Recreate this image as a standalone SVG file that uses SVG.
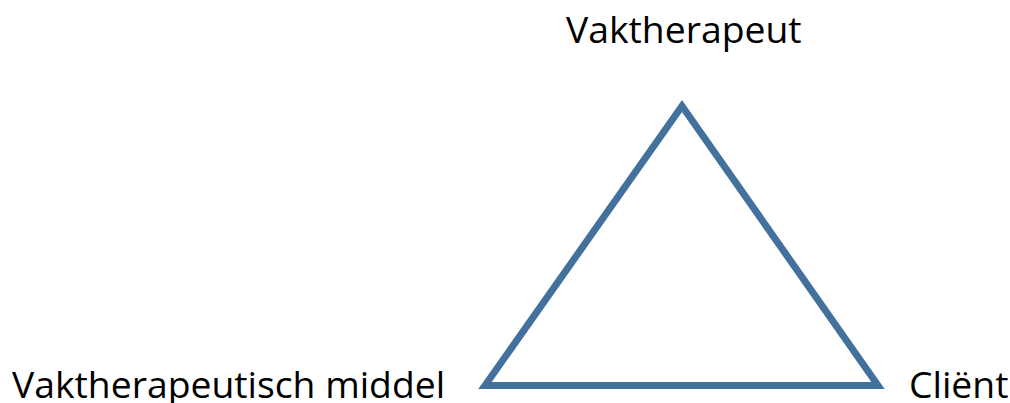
<svg xmlns="http://www.w3.org/2000/svg" width="1010" height="403" viewBox="0 0 1010 403">
  <style>
    .lbl { font-family: "Open Sans", "Liberation Sans", sans-serif; font-size: 37.3px; fill: #000000; }
    .tri { fill: none; stroke: #41719C; stroke-width: 7; stroke-linejoin: miter; }
  </style>
  <rect width="1010" height="403" fill="#ffffff"/>
  <g id="connectors">
    <polygon class="tri" points="682,106 485,385.5 878,385.5"/>
  </g>
  <g id="node-vaktherapeut">
    <text class="lbl" x="566" y="43">Vaktherapeut</text>
  </g>
  <g id="node-middel">
    <text class="lbl" x="12" y="398">Vaktherapeutisch middel</text>
  </g>
  <g id="node-client">
    <text class="lbl" x="909" y="398">Cliënt</text>
  </g>
</svg>
